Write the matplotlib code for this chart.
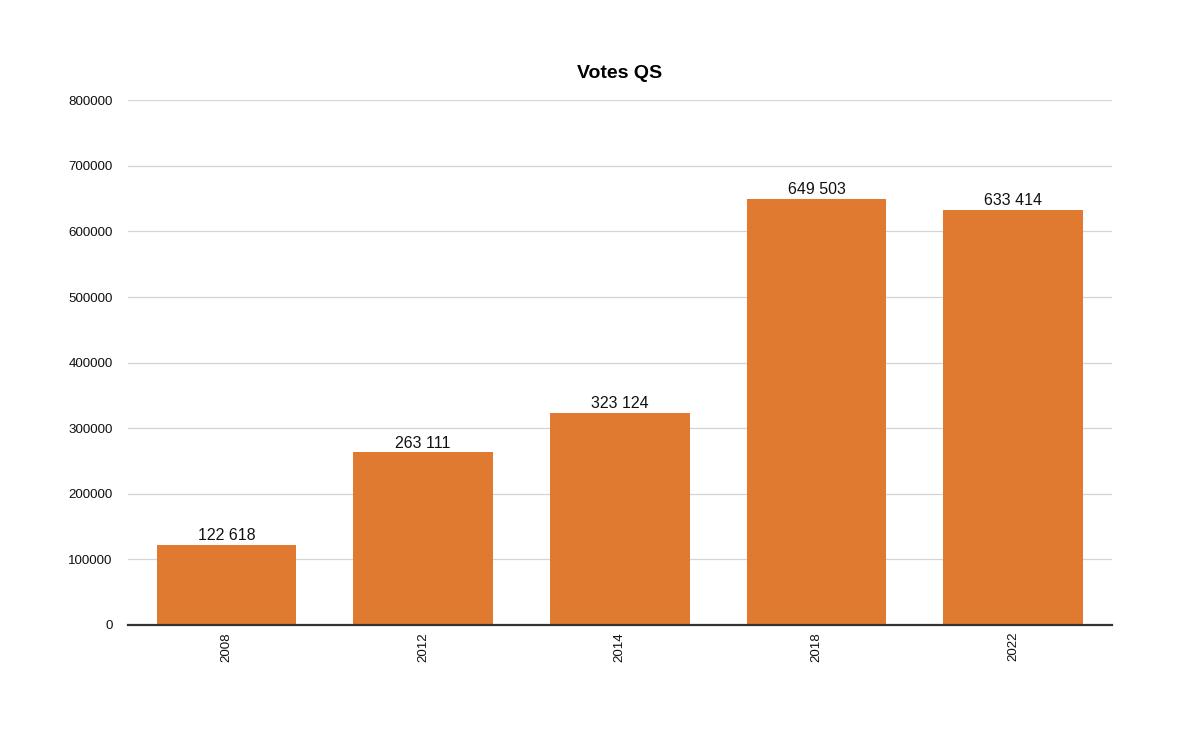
import matplotlib.pyplot as plt

plt.rcParams['font.family'] = ['Liberation Sans', 'DejaVu Sans']

# Data
years = ['2008', '2012', '2014', '2018', '2022']
votes = [122618, 263111, 323124, 649503, 633414]

fig = plt.figure(figsize=(12, 7.37), dpi=100)
ax = fig.add_axes([0.1067, 0.152, 0.8196, 0.712])

x = range(len(years))
bars = ax.bar(x, votes, width=0.71, color='#E07A30', zorder=2)

# value labels with space as thousands separator
for b, v in zip(bars, votes):
    ax.text(b.get_x() + b.get_width() / 2, v + 2500, f"{v:,}".replace(',', ' '),
            ha='center', va='bottom', fontsize=11.5, color='#111111')

ax.set_xlim(-0.5, len(years) - 0.5)
ax.set_ylim(0, 800000)
ax.set_yticks(range(0, 800001, 100000))
ax.set_yticklabels([str(t) for t in range(0, 800001, 100000)])
ax.set_xticks(list(x))
ax.set_xticklabels(years, rotation=90)

ax.grid(axis='y', color='#d4d4d4', linewidth=0.9, zorder=0)
ax.tick_params(axis='both', length=0, labelsize=9.6, colors='#111111')
ax.tick_params(axis='x', pad=5)
ax.tick_params(axis='y', pad=11)
for s in ['top', 'right', 'left']:
    ax.spines[s].set_visible(False)
ax.spines['bottom'].set_color('#333333')
ax.spines['bottom'].set_linewidth(1.6)
ax.spines['bottom'].set_zorder(3)

ax.set_title('Votes QS', fontsize=14, fontweight='bold', pad=16)

fig.savefig('out.png', dpi=100)
